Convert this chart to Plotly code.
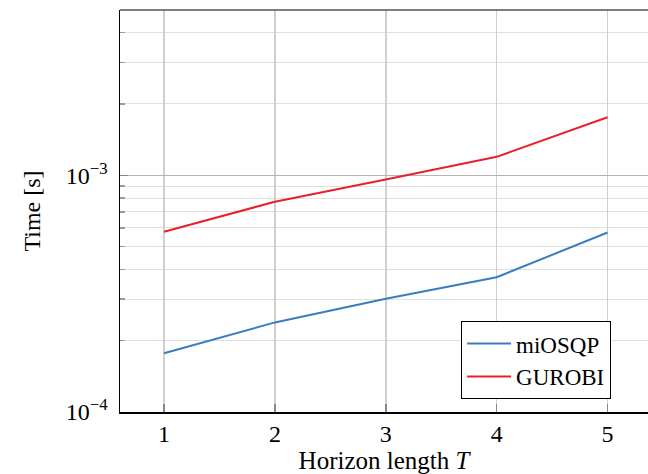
import plotly.graph_objects as go

horizon = [1, 2, 3, 4, 5]
miosqp_time = [1.77e-4, 2.39e-4, 3.01e-4, 3.71e-4, 5.73e-4]
gurobi_time = [5.77e-4, 7.73e-4, 9.59e-4, 1.196e-3, 1.757e-3]
series_names = ["miOSQP", "GUROBI"]
x_ticks = [1, 2, 3, 4, 5]
y_major = [1e-4, 1e-3]
y_major_text = ["10<sup>\u22124</sup>", "10<sup>\u22123</sup>"]
y_minor = [2e-4, 3e-4, 4e-4, 5e-4, 6e-4, 7e-4, 8e-4, 9e-4, 2e-3, 3e-3, 4e-3]

FONT = "Liberation Serif, Times New Roman, serif"
FS = 24

fig = go.Figure()
fig.add_trace(go.Scatter(x=horizon, y=miosqp_time, mode="lines", name=series_names[0],
                         line=dict(color="#3a7dc0", width=2)))
fig.add_trace(go.Scatter(x=horizon, y=gurobi_time, mode="lines", name=series_names[1],
                         line=dict(color="#e8202a", width=2)))

fig.update_layout(
    width=648, height=474,
    margin=dict(l=120, r=0, t=10, b=62),
    paper_bgcolor="white", plot_bgcolor="white",
    font=dict(family=FONT, size=FS, color="black"),
    showlegend=True,
    legend=dict(x=0.646, y=0.226, xanchor="left", yanchor="top",
                bordercolor="black", borderwidth=1, bgcolor="white",
                font=dict(family=FONT, size=23), tracegroupgap=0,
                itemwidth=44),
    xaxis=dict(
        range=[0.603, 5.365], tickvals=x_ticks, ticktext=[str(v) for v in x_ticks],
        showgrid=True, gridcolor="#d0d0d0", gridwidth=1.5,
        showline=True, linecolor="black", linewidth=1.5,
        ticks="inside", ticklen=8, tickcolor="#888888", tickwidth=1.5,
        zeroline=False, automargin=False,
        title=dict(text="Horizon length <i>T</i>", standoff=8, font=dict(size=25)),
        tickfont=dict(size=FS),
    ),
    yaxis=dict(
        type="log", range=[-4, -2.302],
        tickvals=y_major, ticktext=y_major_text,
        showgrid=True, gridcolor="#b4b4b4", gridwidth=1.2,
        showline=True, linecolor="black", linewidth=1.5,
        ticks="inside", ticklen=8, tickcolor="#888888", tickwidth=1.5,
        zeroline=False, automargin=False,
        minor=dict(tickvals=y_minor, showgrid=True, gridcolor="#e0e0e0", gridwidth=1,
                   ticks="inside", ticklen=5, tickcolor="#999999"),
        title=dict(text="Time [s]", standoff=18, font=dict(size=FS)),
        tickfont=dict(size=FS),
        ticklabelstandoff=6,
    ),
)

# top frame line
fig.add_shape(type="line", xref="paper", yref="paper", x0=0, x1=1, y0=1, y1=1,
              line=dict(color="#555555", width=1.5))

fig.write_html(
    "out.html",
    config={"displayModeBar": False, "staticPlot": True},
    post_script="document.body.style.margin='0';document.body.style.overflow='hidden';",
)
